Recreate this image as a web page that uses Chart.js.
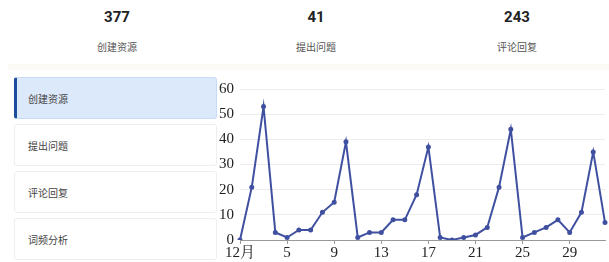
<!DOCTYPE html>
<html lang="zh">
<head>
  <meta charset="UTF-8">
  <title>创建资源</title>
  <script src="https://cdn.jsdelivr.net/npm/chart.js"></script>
  <style>
    body {
      margin: 0;
      width: 609px; height: 262px;
      overflow: hidden;
      background: #fff;
      font-family: 'Noto Sans CJK SC', 'Noto Sans', sans-serif;
      position: relative;
    }
    .stat {
      position: absolute; top: 6px; width: 160px;
      text-align: center;
    }
    .stat .num { font-family: 'Roboto', 'Noto Sans', sans-serif; font-weight: bold; font-size: 15px; color: #222; line-height: 22px; }
    .stat .lbl { font-size: 10px; color: #555; margin-top: 12px; line-height: 14px; }
    .band { position: absolute; left: 8px; right: 0; top: 64px; height: 6px; background: #fbfaf6; }
    .menu {
      position: absolute; left: 14px; width: 203px; height: 42px;
      border: 1px solid #eeeeee; border-radius: 3px; background: #fff;
      font-size: 10px; color: #444; line-height: 42px; padding-left: 13px; box-sizing: border-box;
    }
    .menu.active { background: #dce9fa; border: 1px solid #c6dbf5; border-left: 3px solid #1f4d9e; padding-left: 11px; }
    #wrap { position: absolute; left: 215px; top: 74px; width: 394px; height: 188px; }
  </style>
</head>
<body>
  <div class="stat" style="left:37px"><div class="num">377</div><div class="lbl">创建资源</div></div>
  <div class="stat" style="left:236px"><div class="num">41</div><div class="lbl">提出问题</div></div>
  <div class="stat" style="left:437px"><div class="num">243</div><div class="lbl">评论回复</div></div>
  <div class="band"></div>

  <div class="menu active" style="top:77px">创建资源</div>
  <div class="menu" style="top:124px">提出问题</div>
  <div class="menu" style="top:171px">评论回复</div>
  <div class="menu" style="top:218px">词频分析</div>

  <div id="wrap"><canvas id="trend"></canvas></div>

  <script>
    // 12月每日创建资源数
    const days = ['12月', '2', '3', '4', '5', '6', '7', '8', '9', '10', '11', '12', '13', '14', '15', '16',
                  '17', '18', '19', '20', '21', '22', '23', '24', '25', '26', '27', '28', '29', '30', '31', '1月'];
    const counts = [0, 21, 53, 3, 1, 4, 4, 11, 15, 39, 1, 3, 3, 8, 8, 18,
                    37, 1, 0, 1, 2, 5, 21, 44, 1, 3, 5, 8, 3, 11, 35, 7];
    const yTicks = [0, 10, 20, 30, 40, 50, 60];

    const tickFont = { family: "'Liberation Serif', 'Noto Serif CJK SC', 'Noto Sans CJK SC', serif", size: 15 };

    new Chart(document.getElementById('trend'), {
      type: 'line',
      data: {
        labels: days,
        datasets: [{
          data: counts,
          borderColor: '#4050a0',
          backgroundColor: '#4050a0',
          borderWidth: 2,
          pointRadius: 1.5,
          pointHoverRadius: 2,
          tension: 0
        }]
      },
      options: {
        responsive: true,
        maintainAspectRatio: false,
        animation: false,
        layout: { padding: { top: 5, right: 2, left: 0, bottom: 0 } },
        plugins: { legend: { display: false }, tooltip: { enabled: false } },
        scales: {
          x: {
            grid: { drawOnChartArea: false, drawTicks: true, tickLength: 4, color: '#999' },
            border: { color: '#999' },
            ticks: {
              autoSkip: false, maxRotation: 0, padding: 0, color: '#222', font: tickFont,
              callback: (v, i) => i % 4 === 0 ? days[i] : null
            }
          },
          y: {
            min: yTicks[0], max: yTicks[yTicks.length - 1],
            afterFit: s => { s.width = 25; },
            afterBuildTicks: s => { s.ticks = yTicks.map(v => ({ value: v })); },
            grid: { color: '#ececec', drawTicks: false },
            border: { display: false },
            ticks: { padding: 6, color: '#222', font: tickFont }
          }
        }
      }
    });
  </script>
</body>
</html>
